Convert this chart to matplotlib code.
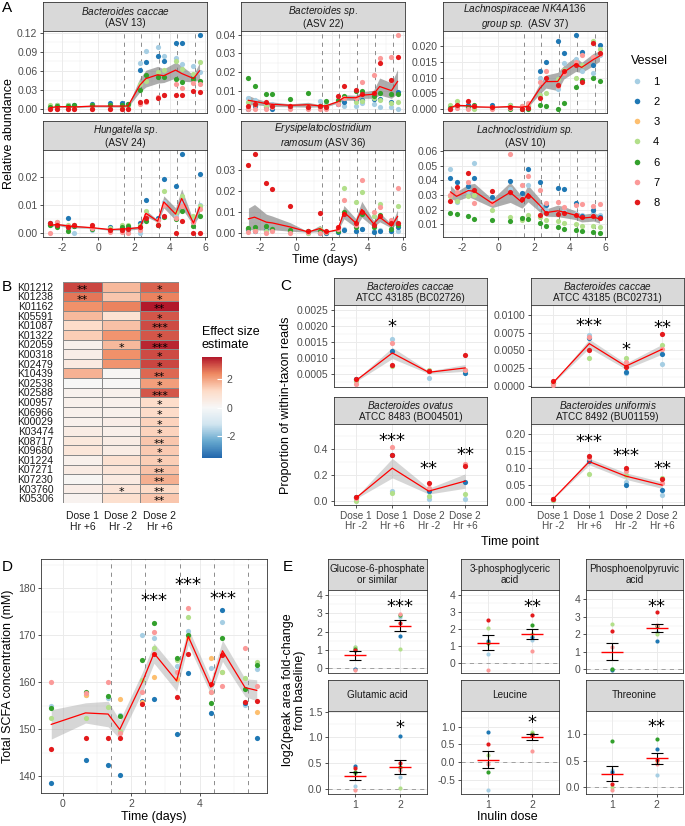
#!/usr/bin/env python3
"""
Inulin dosing in gut model vessels, five panels:
A  ASV relative abundance over time
B  KO effect size heatmap
C  strain-level within-taxon reads
D  total SCFA concentration
E  metabolite fold-change by inulin dose
"""

import numpy as np
import matplotlib
matplotlib.use('Agg')
import matplotlib.pyplot as plt
import matplotlib.transforms as mtransforms
from matplotlib.colors import LinearSegmentedColormap, Normalize
from matplotlib.cm import ScalarMappable
from matplotlib.lines import Line2D
from matplotlib.ticker import MultipleLocator, FormatStrFormatter

plt.rcParams['font.family'] = 'Liberation Sans'
plt.rcParams['mathtext.fontset'] = 'custom'
plt.rcParams['mathtext.rm'] = 'Liberation Sans'
plt.rcParams['mathtext.it'] = 'Liberation Sans:italic'
plt.rcParams['axes.unicode_minus'] = False
plt.rcParams['lines.scale_dashes'] = False

nan = np.nan

# ---------------- data ----------------
VESSEL_COLORS = {1: '#A6CEE3', 2: '#1F78B4', 3: '#FDBF6F', 4: '#B2DF8A',
                 6: '#33A02C', 7: '#FB9A99', 8: '#E31A1C'}
LEGEND_VESSELS = [1, 2, 3, 4, 6, 7, 8]
DOSE_TIMES = [1.42, 2.42, 3.42, 4.42, 5.42]

# Panel A
TIMES_A = [-2.67, -2.33, -1.67, -1.33, -0.33, 0.67, 1.33, 1.67,
           2.33, 2.67, 3.33, 3.67, 4.33, 4.67, 5.33, 5.67]

ASV13 = {
    1: [0.003, 0.004, 0.005, 0.004, 0.006, 0.005, 0.008, 0.006, 0.073, 0.092, 0.097, 0.083, 0.081, 0.071, 0.068, 0.059],
    2: [0.002, 0.007, 0.007, 0.006, 0.009, 0.010, 0.010, 0.009, 0.062, 0.074, 0.083, 0.076, 0.104, 0.104, 0.050, 0.117],
    4: [0.006, 0.006, 0.007, 0.005, 0.006, 0.007, 0.004, 0.007, 0.040, 0.045, 0.058, 0.062, 0.075, 0.063, 0.055, 0.074],
    6: [0.004, 0.005, 0.005, 0.006, 0.007, 0.006, 0.006, 0.008, 0.031, 0.054, 0.050, 0.051, 0.047, 0.043, 0.048, 0.045],
    7: [0.000, 0.001, 0.001, 0.000, 0.001, 0.001, 0.001, 0.000, 0.009, 0.011, 0.020, 0.022, 0.039, 0.033, 0.041, 0.040],
    8: [0.001, 0.001, 0.000, 0.001, 0.001, 0.001, 0.001, 0.001, 0.012, 0.013, 0.017, 0.022, 0.023, 0.023, 0.028, 0.027],
}
ASV22 = {
    1: [0.0060, 0.0050, 0.0030, 0.0030, 0.0020, 0.0020, 0.0043, 0.0030, 0.0026, 0.0020, 0.0020, 0.0035, 0.0030, 0.0014, 0.0010, 0.0000],
    2: [0.0000, 0.0020, 0.0010, 0.0000, 0.0010, 0.0010, 0.0010, 0.0010, 0.0030, 0.0040, 0.0050, 0.0050, 0.0055, 0.0057, 0.0040, 0.0090],
    4: [0.0040, 0.0030, 0.0020, 0.0020, 0.0020, 0.0020, 0.0020, 0.0020, 0.0040, 0.0066, 0.0040, 0.0043, 0.0060, 0.0050, 0.0035, 0.0040],
    6: [0.0168, 0.0125, 0.0080, 0.0083, 0.0057, 0.0087, 0.0020, 0.0043, 0.0048, 0.0070, 0.0097, 0.0100, 0.0069, 0.0087, 0.0080, 0.0083],
    7: [0.0000, 0.0000, 0.0000, 0.0010, 0.0000, 0.0000, 0.0000, 0.0000, 0.0030, 0.0060, 0.0060, 0.0144, 0.0182, 0.0277, 0.0279, 0.0400],
    8: [0.0020, 0.0030, 0.0040, 0.0020, 0.0020, 0.0010, 0.0017, 0.0010, 0.0069, 0.0123, 0.0104, 0.0080, 0.0088, 0.0248, 0.0156, 0.0282],
}
ASV37 = {
    1: [0.0010, 0.0008, 0.0012, 0.0005, 0.0008, 0.0010, 0.0010, 0.0015, 0.0098, 0.0095, 0.0065, 0.0145, 0.0160, 0.0122, 0.0116, 0.0171],
    2: [0.0000, 0.0015, 0.0015, 0.0010, 0.0012, 0.0013, 0.0008, 0.0010, 0.0120, 0.0151, 0.0216, 0.0177, 0.0236, 0.0180, 0.0140, 0.0204],
    4: [0.0015, 0.0025, 0.0005, 0.0000, 0.0008, 0.0015, 0.0010, 0.0012, 0.0045, 0.0050, 0.0095, 0.0125, 0.0098, 0.0141, 0.0216, 0.0192],
    6: [0.0005, 0.0010, 0.0008, 0.0012, 0.0005, 0.0000, 0.0000, 0.0000, 0.0012, 0.0010, 0.0000, 0.0021, 0.0072, 0.0092, 0.0100, 0.0090],
    7: [0.0000, 0.0005, 0.0000, 0.0010, 0.0000, 0.0005, 0.0010, 0.0020, 0.0085, 0.0122, 0.0075, 0.0115, 0.0150, 0.0173, 0.0165, 0.0175],
    8: [0.0002, 0.0012, 0.0026, 0.0010, 0.0006, 0.0008, 0.0002, 0.0003, 0.0035, 0.0098, 0.0077, 0.0120, 0.0140, 0.0087, 0.0209, 0.0179],
}
ASV24 = {
    1: [0.0030, 0.0028, 0.0015, 0.0000, 0.0012, 0.0008, 0.0010, 0.0002, 0.0001, 0.0060, 0.0050, 0.0110, 0.0060, 0.0110, 0.0050, 0.0100],
    2: [0.0035, 0.0030, 0.0053, 0.0025, 0.0020, 0.0022, 0.0015, 0.0020, 0.0035, 0.0119, 0.0055, 0.0193, 0.0168, 0.0283, 0.0040, 0.0211],
    4: [0.0032, 0.0040, 0.0030, 0.0030, 0.0022, 0.0018, 0.0028, 0.0030, 0.0030, 0.0080, 0.0045, 0.0149, 0.0075, 0.0131, 0.0060, 0.0095],
    6: [0.0030, 0.0020, 0.0008, 0.0025, 0.0015, 0.0012, 0.0020, 0.0025, 0.0022, 0.0044, 0.0030, 0.0057, 0.0050, 0.0080, 0.0025, 0.0062],
    7: [0.0000, 0.0038, 0.0025, 0.0030, 0.0018, 0.0005, 0.0002, 0.0000, 0.0010, 0.0065, 0.0045, 0.0100, 0.0055, 0.0095, 0.0040, 0.0085],
    8: [0.0035, 0.0030, 0.0020, 0.0030, 0.0028, 0.0010, 0.0012, 0.0015, 0.0020, 0.0055, 0.0030, 0.0060, 0.0000, 0.0044, 0.0000, 0.0000],
}
ASV36 = {
    1: [0.0015, 0.0010, 0.0012, 0.0015, 0.0010, 0.0002, 0.0000, 0.0000, 0.0005, 0.0020, 0.0010, 0.0020, 0.0010, 0.0015, 0.0010, 0.0010],
    2: [0.0018, 0.0012, 0.0015, 0.0018, 0.0008, 0.0005, 0.0002, 0.0000, 0.0005, 0.0015, 0.0010, 0.0020, 0.0005, 0.0010, 0.0010, 0.0030],
    4: [0.0025, 0.0015, 0.0010, 0.0018, 0.0012, 0.0000, 0.0020, 0.0005, 0.0025, 0.0216, 0.0150, 0.0196, 0.0080, 0.0138, 0.0050, 0.0129],
    6: [0.0022, 0.0030, 0.0035, 0.0020, 0.0015, 0.0010, 0.0010, 0.0005, 0.0010, 0.0100, 0.0030, 0.0090, 0.0030, 0.0085, 0.0020, 0.0040],
    7: [0.0005, 0.0010, 0.0000, 0.0008, 0.0000, 0.0005, 0.0002, 0.0005, 0.0020, 0.0158, 0.0040, 0.0252, 0.0100, 0.0125, 0.0060, 0.0216],
    8: [0.0323, 0.0378, 0.0241, 0.0211, 0.0129, 0.0010, 0.0096, 0.0010, 0.0030, 0.0090, 0.0050, 0.0100, 0.0040, 0.0080, 0.0050, 0.0050],
}
ASV10 = {
    1: [0.0479, 0.0255, 0.0330, 0.0520, 0.0270, 0.0340, 0.0280, 0.0370, 0.0225, 0.0200, 0.0180, 0.0190, 0.0170, 0.0160, 0.0180, 0.0165],
    2: [0.0416, 0.0386, 0.0363, 0.0413, 0.0283, 0.0398, 0.0311, 0.0474, 0.0390, 0.0230, 0.0348, 0.0338, 0.0245, 0.0156, 0.0200, 0.0152],
    4: [0.0290, 0.0260, 0.0290, 0.0300, 0.0200, 0.0150, 0.0126, 0.0160, 0.0150, 0.0130, 0.0120, 0.0110, 0.0100, 0.0090, 0.0085, 0.0080],
    6: [0.0179, 0.0168, 0.0156, 0.0134, 0.0127, 0.0120, 0.0140, 0.0138, 0.0110, 0.0090, 0.0080, 0.0070, 0.0060, 0.0055, 0.0050, 0.0040],
    7: [0.0300, 0.0320, 0.0390, 0.0248, 0.0248, 0.0580, 0.0368, 0.0428, 0.0331, 0.0248, 0.0250, 0.0217, 0.0233, 0.0238, 0.0226, 0.0241],
    8: [0.0260, 0.0355, 0.0451, 0.0334, 0.0329, 0.0320, 0.0272, 0.0290, 0.0165, 0.0180, 0.0170, 0.0175, 0.0160, 0.0150, 0.0155, 0.0140],
}
A_TAXA = [ASV13, ASV22, ASV37, ASV24, ASV36, ASV10]
A_LABELS = [
    r'$\mathit{Bacteroides\ caccae}$' + '\n(ASV 13)',
    r'$\mathit{Bacteroides\ sp.}$' + '\n(ASV 22)',
    r'$\mathit{Lachnospiraceae\ NK4A136}$' + '\n' + r'$\mathit{group\ sp.}$ (ASV 37)',
    r'$\mathit{Hungatella\ sp.}$' + '\n(ASV 24)',
    r'$\mathit{Erysipelatoclostridium}$' + '\n' + r'$\mathit{ramosum}$ (ASV 36)',
    r'$\mathit{Lachnoclostridium\ sp.}$' + '\n(ASV 10)',
]

# Panel B
KO_IDS = ['K01212', 'K01238', 'K01162', 'K05591', 'K01087', 'K01322', 'K02059',
          'K00318', 'K02479', 'K10439', 'K02538', 'K02588', 'K00957', 'K06966',
          'K00029', 'K03474', 'K08717', 'K09680', 'K01224', 'K07271', 'K07230',
          'K03760', 'K05306']
B_COLUMNS = ['Dose 1\nHr +6', 'Dose 2\nHr -2', 'Dose 2\nHr +6']
EFFECT_D1_P6 = [3.1, 2.6, 2.3, 1.7, 1.1, 1.4, 0.3, 0.4, 0.55, 1.8, 0.0, 0.25,
                0.3, 0.3, 0.3, 0.45, 0.65, 0.75, 0.3, 0.5, 0.1, 0.4, 0.2]
EFFECT_D2_M2 = [1.7, 1.5, 2.45, 0.9, 1.6, 2.25, 1.7, 2.3, 2.25, 0.1, 0.05, 0.3,
                0.3, 0.3, 0.4, 0.35, 0.45, 0.45, 0.95, 0.8, 0.55, 0.8, 1.0]
EFFECT_D2_P6 = [2.8, 2.45, 3.6, 2.95, 3.05, 2.95, 3.45, 3.05, 3.1, 2.75, 2.1, 2.95,
                1.1, 1.15, 1.3, 1.3, 1.5, 1.45, 1.4, 1.55, 1.85, 1.2, 1.5]
SIG_D1_P6 = ['**', '**'] + [''] * 21
SIG_D2_M2 = [''] * 6 + ['*'] + [''] * 14 + ['*', '']
SIG_D2_P6 = ['*', '*', '**', '*', '***', '*', '***', '*', '*', '**', '*', '***',
             '*', '*', '*', '*', '**', '*', '*', '**', '**', '**', '**']

# Panel C
C_LEVELS = ['Dose 1\nHr -2', 'Dose 1\nHr +6', 'Dose 2\nHr -2', 'Dose 2\nHr +6']
BC02726 = {1: [0.00030, 0.00160, 0.00037, 0.00058], 2: [0.00032, 0.00120, 0.00058, 0.00052],
           4: [0.00028, 0.00073, 0.00060, 0.00060], 7: [0.00016, 0.00145, 0.00058, 0.00060],
           8: [0.00034, 0.00077, 0.00058, 0.00110]}
BC02731 = {1: [0.0003, 0.0071, 0.0018, 0.0031], 2: [0.0004, 0.0067, 0.0019, 0.0044],
           4: [0.0004, 0.0039, 0.0039, 0.0057], 7: [0.00014, 0.0069, 0.0034, 0.0052],
           8: [0.0006, 0.0051, 0.0027, 0.0073]}
BO04501 = {1: [0.020, 0.077, 0.013, 0.010], 2: [0.030, 0.355, 0.075, 0.146],
           4: [0.000, 0.060, 0.040, 0.049], 7: [0.020, 0.410, 0.100, 0.280],
           8: [0.031, 0.350, 0.140, 0.270]}
BU01159 = {1: [0.008, 0.125, 0.060, 0.020], 2: [0.009, 0.122, 0.051, 0.036],
           4: [0.008, 0.083, 0.080, 0.071], 7: [0.009, 0.130, 0.092, 0.058],
           8: [0.010, 0.137, 0.102, 0.067]}
C_STRAINS = [BC02726, BC02731, BO04501, BU01159]
C_LABELS = [
    r'$\mathit{Bacteroides\ caccae}$' + '\nATCC 43185 (BC02726)',
    r'$\mathit{Bacteroides\ caccae}$' + '\nATCC 43185 (BC02731)',
    r'$\mathit{Bacteroides\ ovatus}$' + '\nATCC 8483 (BO04501)',
    r'$\mathit{Bacteroides\ uniformis}$' + '\nATCC 8492 (BU01159)',
]
C_SIG = [[(2, 0.00214, '*')],
         [(2, 0.0092, '***'), (3, 0.0058, '*'), (4, 0.0089, '**')],
         [(2, 0.50, '***'), (3, 0.28, '**'), (4, 0.39, '**')],
         [(2, 0.193, '***'), (3, 0.152, '***'), (4, 0.113, '**')]]

# Panel D
TIMES_D = [-0.33, 0.67, 1.33, 1.67, 2.33, 2.67, 3.33, 3.67, 4.33, 4.67, 5.33, 5.67]
SCFA = {
    1: [154.9, 157.3, 156.7, 153.1, 170.0, 169.3, 163.5, 170.9, 162.9, 172.8, 155.2, 162.8],
    2: [138.6, 143.5, 142.3, 140.2, 156.0, 156.4, 148.9, 162.0, 153.5, 175.3, 155.5, 148.2],
    3: [nan, 157.2, nan, 156.4, 155.8, 161.1, 160.6, 169.4, 165.2, 162.2, nan, 153.7],
    4: [152.3, 152.3, 154.8, 149.5, 160.4, 167.2, 164.7, 173.9, 158.0, 162.1, 160.8, 164.2],
    6: [154.4, 157.9, 157.1, 152.8, 164.7, 172.5, 165.2, 170.1, 155.5, 169.4, 158.5, 163.6],
    7: [160.1, 157.7, 160.1, 149.2, 157.9, 170.6, 162.1, 175.8, 157.9, 159.2, 167.2, 159.2],
    8: [145.7, 148.2, 148.2, 148.2, 155.3, 165.9, 156.9, 165.9, 159.5, 165.7, 155.8, 156.0],
}
D_SIG = [(2.66, 178.3, '***'), (3.67, 181.7, '***'), (4.67, 178.7, '***')]

# Panel E  (vessel -> [dose 1, dose 2])
INULIN_DOSES = [1, 2]
G6P = {1: [1.17, 2.80], 2: [-0.02, 1.77], 4: [1.15, 1.04], 6: [1.04, 2.90], 7: [-0.10, 2.94], 8: [1.00, 2.45]}
PG3 = {1: [0.51, 1.35], 2: [1.30, 1.50], 4: [2.04, 1.71], 6: [1.16, 2.24], 7: [-0.41, 0.71], 8: [2.53, 2.82]}
PEP = {1: [0.00, 2.11], 2: [-0.02, 1.63], 4: [2.59, 2.00], 6: [0.00, 2.50], 7: [1.27, 2.53], 8: [2.19, 3.26]}
GLU = {1: [0.06, 0.23], 2: [0.45, 1.02], 4: [0.31, 0.02], 6: [0.34, 0.44], 7: [-0.01, 0.37], 8: [0.41, 0.50]}
LEU = {1: [-0.78, 0.79], 2: [0.86, 0.79], 4: [0.21, 0.86], 6: [-0.28, 0.79], 7: [-0.06, 0.32], 8: [0.51, 0.77]}
THR = {1: [0.32, 0.22], 2: [0.29, 0.73], 4: [0.00, 0.45], 6: [0.88, 0.91], 7: [-0.06, 0.43], 8: [0.05, 0.51]}
E_METABS = [G6P, PG3, PEP, GLU, LEU, THR]
E_LABELS = ['Glucose-6-phosphate\nor similar', '3-phosphoglyceric\nacid',
            'Phosphoenolpyruvic\nacid', 'Glutamic acid', 'Leucine', 'Threonine']
E_SIG = ['***', '**', '**', '*', '*', '**']
E_SIG_Y = [3.63, 3.60, 3.87, 1.28, 1.25, 1.24]

# ---------------- layout helpers ----------------
W, H = 685, 826
fig = plt.figure(figsize=(W / 100, H / 100), dpi=100)

BORDER = '#333333'
GRID = '#EBEBEB'
TICKTXT = '#4D4D4D'


def box(x0, y0, x1, y1):
    """Axes from pixel corners (top-left origin)"""
    return fig.add_axes([x0 / W, 1 - y1 / H, (x1 - x0) / W, (y1 - y0) / H])


def strip(x0, y0, x1, y1, label):
    s = box(x0, y0, x1, y1)
    s.set_facecolor('#D9D9D9')
    s.set_xticks([])
    s.set_yticks([])
    for sp in s.spines.values():
        sp.set_color(BORDER)
        sp.set_linewidth(0.6)
    s.text(0.5, 0.5, label, ha='center', va='center', fontsize=7.2,
           color='#1A1A1A', transform=s.transAxes, linespacing=1.05)
    return s


def style_panel(ax, ystep, yfmt, xstep=None):
    for sp in ax.spines.values():
        sp.set_color(BORDER)
        sp.set_linewidth(0.6)
    ax.yaxis.set_major_locator(MultipleLocator(ystep))
    ax.yaxis.set_minor_locator(MultipleLocator(ystep / 2))
    ax.yaxis.set_major_formatter(FormatStrFormatter(yfmt))
    if xstep is not None:
        ax.xaxis.set_major_locator(MultipleLocator(xstep))
        ax.xaxis.set_minor_locator(MultipleLocator(xstep / 2))
    ax.grid(True, which='major', color=GRID, lw=0.7)
    ax.grid(True, which='minor', color=GRID, lw=0.35)
    ax.set_axisbelow(True)
    ax.tick_params(which='major', length=2.5, width=0.6, color=BORDER,
                   labelsize=7.5, labelcolor=TICKTXT, pad=1.5)
    ax.tick_params(which='minor', length=0)


def hide_x(ax):
    ax.tick_params(axis='x', which='both', length=0, labelbottom=False)


def stars(ax, x, y, txt, size=13):
    # y is the visual centre of the asterisks
    tr = mtransforms.offset_copy(ax.transData, fig=fig, y=-0.56 * size, units='points')
    ax.text(x, y, txt, transform=tr, ha='center', va='baseline', fontsize=size,
            family='DejaVu Sans', color='black')


def summarize(series):
    arr = np.array([series[v] for v in series], dtype=float)
    n = np.sum(~np.isnan(arr), axis=0)
    mean = np.nanmean(arr, axis=0)
    se = np.nanstd(arr, axis=0, ddof=1) / np.sqrt(n)
    return mean, se


def label(x, y, txt, **kw):
    fig.text(x / W, 1 - y / H, txt, **kw)


# ---------------- panels ----------------
def draw_panel_a():
    cols = [(43, 207), (241, 405), (443, 607)]
    rows = [((2, 31), (31, 113)), ((121, 150), (150, 237))]
    ysteps = [(0.03, '%.2f'), (0.01, '%.2f'), (0.005, '%.3f'),
              (0.01, '%.2f'), (0.01, '%.2f'), (0.01, '%.2f')]
    for i, series in enumerate(A_TAXA):
        r, c = divmod(i, 3)
        x0, x1 = cols[c]
        (s0, s1), (p0, p1) = rows[r]
        strip(x0, s0, x1, s1, A_LABELS[i])
        ax = box(x0, p0, x1, p1)
        style_panel(ax, ysteps[i][0], ysteps[i][1], xstep=2)
        for d in DOSE_TIMES:
            ax.axvline(d, color='#8C8C8C', lw=0.7, ls=(0, (3, 3)), zorder=1.5)
        mean, se = summarize(series)
        ax.fill_between(TIMES_A, mean - se, mean + se, color='#777777', alpha=0.6,
                        lw=0, zorder=2)
        for v, vals in series.items():
            ax.scatter(TIMES_A, vals, s=14, color=VESSEL_COLORS[v], lw=0, zorder=3)
        ax.plot(TIMES_A, mean, color='red', lw=0.9, zorder=4)
        allv = np.array(list(series.values()), dtype=float)
        lo, hi = np.nanmin(allv), np.nanmax(allv)
        pad = 0.05 * (hi - lo)
        ax.set_ylim(lo - pad, hi + pad)
        span = TIMES_A[-1] - TIMES_A[0]
        ax.set_xlim(TIMES_A[0] - 0.05 * span, TIMES_A[-1] + 0.05 * span)
        if r == 0:
            hide_x(ax)

    label(325, 260, 'Time (days)', ha='center', va='center', fontsize=9)
    label(9, 134, 'Relative abundance', ha='center', va='center', fontsize=9, rotation=90)

    handles = [Line2D([], [], ls='none', marker='o', ms=4.0, mec='none',
                      mfc=VESSEL_COLORS[v]) for v in LEGEND_VESSELS]
    leg = fig.legend(handles, [str(v) for v in LEGEND_VESSELS], title='Vessel',
                     loc='upper left', bbox_to_anchor=(631 / W, 1 - 55 / H),
                     frameon=False, fontsize=8, title_fontsize=9, labelspacing=0.92,
                     handlelength=1.0, handletextpad=1.0, borderaxespad=0, borderpad=0)
    leg._legend_box.align = 'left'
    leg._legend_box.sep = 7


def draw_panel_b():
    cmap = LinearSegmentedColormap.from_list(
        'rdbu', ['#2166AC', '#67A9CF', '#D1E5F0', '#F7F7F7', '#FDDBC7', '#EF8A62', '#B2182B'])
    norm = Normalize(-3.6, 3.6)
    ax = box(63, 282, 179, 503)
    data = np.column_stack([EFFECT_D1_P6, EFFECT_D2_M2, EFFECT_D2_P6])
    sig = list(zip(SIG_D1_P6, SIG_D2_M2, SIG_D2_P6))
    ax.pcolormesh(np.arange(4), np.arange(len(KO_IDS) + 1), data, cmap=cmap, norm=norm,
                  edgecolors='#8A8A8A', linewidth=0.4)
    ax.set_xlim(0, 3)
    ax.set_ylim(len(KO_IDS), 0)
    ax.set_yticks(np.arange(len(KO_IDS)) + 0.5, KO_IDS)
    ax.set_xticks(np.arange(3) + 0.5, B_COLUMNS)
    ax.tick_params(length=0, labelsize=7.5, labelcolor='#1A1A1A')
    ax.tick_params(axis='y', pad=7)
    ax.tick_params(axis='x', pad=6)
    for lab in ax.get_xticklabels():
        lab.set_linespacing(1.05)
    for sp in ax.spines.values():
        sp.set_visible(False)
    for i, row in enumerate(sig):
        for j, s in enumerate(row):
            if s:
                stars(ax, j + 0.5, i + 0.5, s, size=8)

    cax = box(202, 357, 222, 458)
    cb = fig.colorbar(ScalarMappable(norm=norm, cmap=cmap), cax=cax, ticks=[-2, 0, 2])
    cb.outline.set_visible(False)
    cax.tick_params(length=3.5, width=0.8, color='white', direction='in',
                    labelsize=7.5, labelcolor=TICKTXT, pad=3)
    label(202, 326, 'Effect size\nestimate', ha='left', va='top', fontsize=9,
          linespacing=1.1)


def draw_panel_c():
    pos = [(334, 487, 278, 305, 387), (531, 684, 278, 305, 387),
           (334, 487, 397, 424, 505), (531, 684, 397, 424, 505)]
    ylims = [(0.00008, 0.00266), (-0.0002, 0.0114), (-0.033, 0.59), (-0.008, 0.23)]
    ysteps = [(0.0005, '%.4f'), (0.0025, '%.4f'), (0.2, '%.1f'), (0.05, '%.2f')]
    xs = np.arange(1, len(C_LEVELS) + 1)
    for i, series in enumerate(C_STRAINS):
        x0, x1, s0, p0, p1 = pos[i]
        strip(x0, s0, x1, p0, C_LABELS[i])
        ax = box(x0, p0, x1, p1)
        style_panel(ax, *ysteps[i])
        ax.set_xticks(xs, C_LEVELS)
        mean, se = summarize(series)
        ax.fill_between(xs, mean - se, mean + se, color='#999999', alpha=0.4, lw=0, zorder=2)
        for v, vals in series.items():
            ax.scatter(xs, vals, s=14, color=VESSEL_COLORS[v], lw=0, zorder=3)
        ax.plot(xs, mean, color='red', lw=0.9, zorder=4)
        for x, y, s in C_SIG[i]:
            stars(ax, x, y, s)
        ax.set_xlim(0.4, len(C_LEVELS) + 0.6)
        ax.set_ylim(*ylims[i])
        if i < 2:
            hide_x(ax)
        else:
            for lab in ax.get_xticklabels():
                lab.set_linespacing(1.0)
                lab.set_fontsize(7.2)
    label(510, 542, 'Time point', ha='center', va='center', fontsize=9)
    label(286, 405, 'Proportion of within-taxon reads', ha='center', va='center',
          fontsize=9, rotation=90)


def draw_panel_d():
    ax = box(41, 559, 267, 793)
    style_panel(ax, 10, '%d', xstep=2)
    for d in DOSE_TIMES:
        ax.axvline(d, color='#8C8C8C', lw=0.7, ls=(0, (3, 3)), zorder=1.5)
    mean, se = summarize(SCFA)
    ax.fill_between(TIMES_D, mean - se, mean + se, color='#999999', alpha=0.4, lw=0, zorder=2)
    for v, vals in SCFA.items():
        ax.scatter(TIMES_D, vals, s=14, color=VESSEL_COLORS[v], lw=0, zorder=3)
    ax.plot(TIMES_D, mean, color='red', lw=0.9, zorder=4)
    for x, y, s in D_SIG:
        stars(ax, x, y, s)
    span = TIMES_D[-1] - TIMES_D[0]
    ax.set_xlim(TIMES_D[0] - 0.05 * span, TIMES_D[-1] + 0.05 * span)
    ax.set_ylim(136.4, 186.2)
    label(154, 817, 'Time (days)', ha='center', va='center', fontsize=9)
    label(8, 676, 'Total SCFA concentration (mM)', ha='center', va='center',
          fontsize=9, rotation=90)


def draw_panel_e():
    cols = [(328, 427), (461, 559), (586, 683)]
    rows = [(559, 590, 673), (680, 711, 794)]
    ylims = [(-0.26, 4.27), (-0.59, 4.29), (-0.21, 4.53),
             (-0.09, 1.51), (-0.89, 1.44), (-0.14, 1.45)]
    ysteps = [(1, '%d'), (1, '%d'), (1, '%d'), (0.5, '%.1f'), (0.5, '%.1f'), (0.5, '%.1f')]
    for i, series in enumerate(E_METABS):
        r, c = divmod(i, 3)
        x0, x1 = cols[c]
        s0, p0, p1 = rows[r]
        strip(x0, s0, x1, p0, E_LABELS[i])
        ax = box(x0, p0, x1, p1)
        style_panel(ax, *ysteps[i])
        ax.set_xticks(INULIN_DOSES)
        ax.axhline(0, color='#A0A0A0', lw=0.7, ls=(0, (3, 3)), zorder=1.5)
        for v, vals in series.items():
            ax.scatter(INULIN_DOSES, vals, s=9, color=VESSEL_COLORS[v], lw=0, zorder=3)
        mean, se = summarize(series)
        ax.errorbar(INULIN_DOSES, mean, yerr=se, fmt='none', ecolor='black',
                    elinewidth=0.8, capsize=4, capthick=0.8, zorder=4)
        ax.hlines(mean, np.array(INULIN_DOSES) - 0.25, np.array(INULIN_DOSES) + 0.25,
                  color='red', lw=1.0, zorder=5)
        stars(ax, INULIN_DOSES[1], E_SIG_Y[i], E_SIG[i])
        ax.set_xlim(0.4, 2.6)
        ax.set_ylim(*ylims[i])
        if r == 0:
            hide_x(ax)
    label(507, 817, 'Inulin dose', ha='center', va='center', fontsize=9)
    label(294, 690, 'log2(peak area fold-change\nfrom baseline)', ha='center',
          va='center', fontsize=9, rotation=90, linespacing=1.1)


def main():
    draw_panel_a()
    draw_panel_b()
    draw_panel_c()
    draw_panel_d()
    draw_panel_e()

    for x, y, t in [(2, 8, 'A'), (2, 287, 'B'), (280, 286, 'C'), (2, 567, 'D'), (283, 567, 'E')]:
        label(x, y, t, ha='left', va='center', fontsize=11)

    fig.savefig('out.png', dpi=100)
    print('Saved: out.png')


if __name__ == '__main__':
    main()
